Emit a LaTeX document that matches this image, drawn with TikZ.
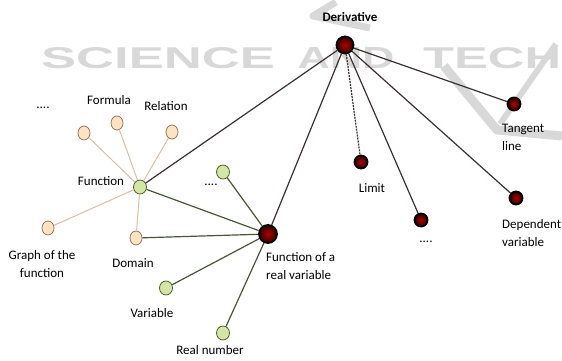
\documentclass[tikz,border=0pt]{standalone}
\usepackage{fontspec}
\setmainfont{Carlito}
\newfontfamily\markfont{Liberation Sans}
\usetikzlibrary{shapes.geometric}

\definecolor{peachfill}{HTML}{FDE3C2}
\definecolor{peachline}{HTML}{8C7A62}
\definecolor{peachedge}{HTML}{D9BFA3}
\definecolor{greenfill}{HTML}{D4E6A6}
\definecolor{greenline}{HTML}{4F6228}
\definecolor{greenedge}{HTML}{4A5537}
\definecolor{darkedge}{HTML}{3B2F2F}
\definecolor{markgray}{HTML}{D8D8D8}

\tikzset{
    lbl/.style={font=\fontsize{13}{18}\selectfont, text=black, inner sep=0pt},
    peachnode/.style={ellipse, draw=peachline, fill=peachfill, line width=0.8pt,
        minimum width=12pt, minimum height=14pt, inner sep=0pt},
    greennode/.style={ellipse, draw=greenline, fill=greenfill, line width=0.8pt,
        minimum width=13pt, minimum height=14pt, inner sep=0pt},
    rednode/.style={circle, draw=black, line width=1.8pt, inner color=red!70!black,
        outer color=red!20!black, minimum size=13pt, inner sep=0pt},
    peachlink/.style={draw=peachedge, line width=1pt},
    greenlink/.style={draw=greenedge, line width=1.2pt},
    darklink/.style={draw=darkedge, line width=1.2pt}
}

\begin{document}
\begin{tikzpicture}[x=1pt, y=-1pt]
    \useasboundingbox (0,0) rectangle (562,361);

    % watermark
    \node[text=markgray, inner sep=0pt] (markA) at (158,58)
        {\resizebox{234pt}{21pt}{\markfont\bfseries SCIENCE}};
    \node[text=markgray, inner sep=0pt] (markB) at (346,58)
        {\resizebox{97pt}{21pt}{\markfont\bfseries AND}};
    \node[text=markgray, inner sep=0pt, anchor=west] (markC) at (423,58)
        {\resizebox{138pt}{21pt}{\markfont\bfseries TECH}};
    \draw[markgray, line width=7pt, line join=round] (336,2) -- (313,16) -- (370,28);
    \draw[markgray, line width=9pt, line join=round] (444,66) -- (497,130) -- (562,136);
    \draw[markgray, line width=6pt] (500,124) -- (556,44);

    % nodes
    \node[rednode, minimum size=17pt] (deriv) at (345,45) {};
    \node[rednode] (tangent) at (514,104) {};
    \node[rednode] (limit) at (361,162) {};
    \node[rednode] (etcR) at (421,220) {};
    \node[rednode] (dependent) at (516,198) {};
    \node[rednode, minimum size=18pt] (realfunc) at (268,234) {};

    \node[greennode] (func) at (140,187) {};
    \node[greennode] (etcG) at (223,172) {};
    \node[greennode] (variable) at (166,288) {};
    \node[greennode] (realnum) at (223,333) {};

    \node[peachnode] (etcL) at (84,133) {};
    \node[peachnode] (formula) at (117,123) {};
    \node[peachnode] (relation) at (172,132) {};
    \node[peachnode] (graph) at (48,228) {};
    \node[peachnode] (domain) at (136,238) {};

    % labels
    \node[lbl, font=\fontsize{13}{18}\selectfont\bfseries] (derivlbl) at (350,17) {Derivative};
    \node[lbl, anchor=north west, align=left] (tangentlbl) at (502,124) {Tangent\\line};
    \node[lbl] (limitlbl) at (372,188) {Limit};
    \node[lbl] (etcRlbl) at (426,242) {....};
    \node[lbl, anchor=north west, align=left] (dependentlbl) at (502,219) {Dependent\\variable};
    \node[lbl, anchor=north west, align=left] (realfunclbl) at (266,252) {Function of a\\real variable};
    \node[lbl] (funclbl) at (101,181) {Function};
    \node[lbl] (etcGlbl) at (211,185) {....};
    \node[lbl] (variablelbl) at (152,313) {Variable};
    \node[lbl] (realnumlbl) at (210,350) {Real number};
    \node[lbl] (etcLlbl) at (43,108) {....};
    \node[lbl] (formulalbl) at (109,100) {Formula};
    \node[lbl] (relationlbl) at (166,106) {Relation};
    \node[lbl, align=center] (graphlbl) at (42,264) {Graph of the\\function};
    \node[lbl] (domainlbl) at (133,263) {Domain};

    % links
    \draw[peachlink] (func) -- (etcL);
    \draw[peachlink] (func) -- (formula);
    \draw[peachlink] (func) -- (relation);
    \draw[peachlink] (func) -- (graph);
    \draw[peachlink] (func) -- (domain);

    \draw[greenlink] (realfunc) -- (func);
    \draw[greenlink] (realfunc) -- (domain);
    \draw[greenlink] (realfunc) -- (etcG);
    \draw[greenlink] (realfunc) -- (variable);
    \draw[greenlink] (realfunc) -- (realnum);

    \draw[darklink] (deriv) -- (func);
    \draw[darklink] (deriv) -- (realfunc);
    \draw[darklink, dash pattern=on 2pt off 1pt] (deriv) -- (limit);
    \draw[darklink] (deriv) -- (etcR);
    \draw[darklink] (deriv) -- (dependent);
    \draw[darklink] (deriv) -- (tangent);
\end{tikzpicture}
\end{document}
